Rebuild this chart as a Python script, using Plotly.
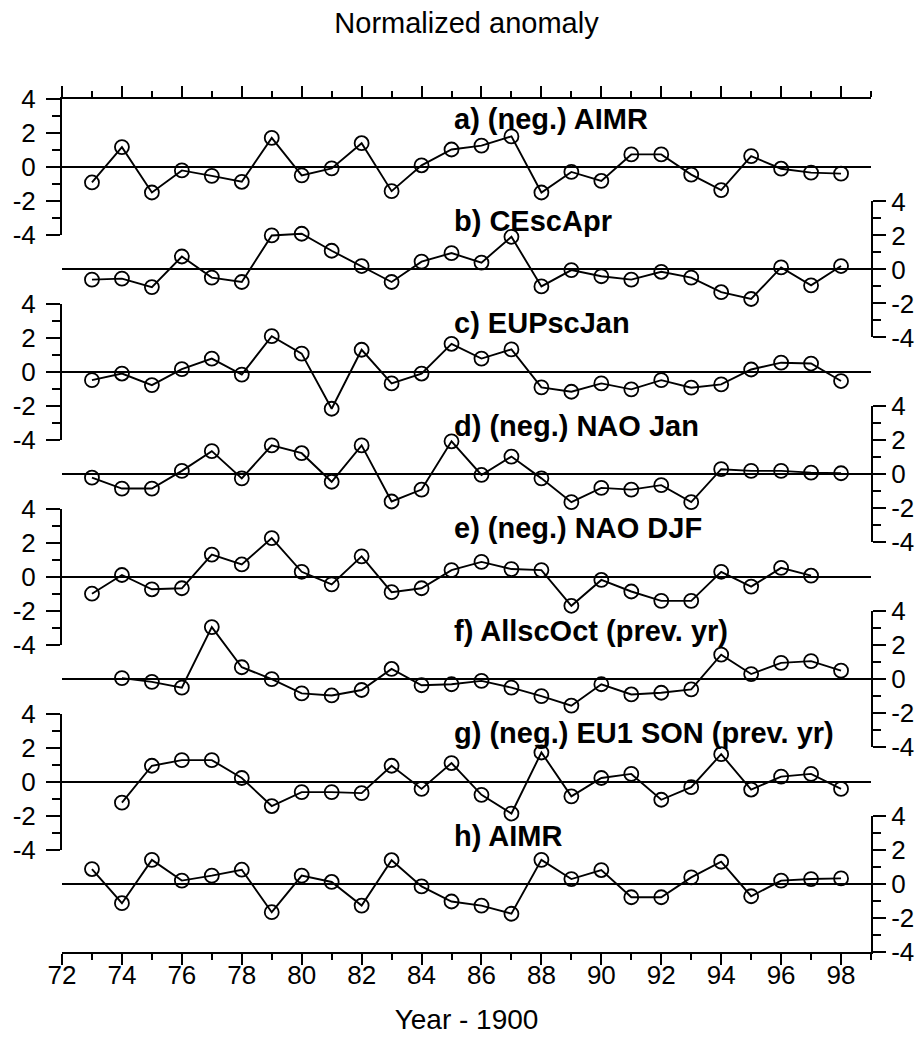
import plotly.graph_objects as go

# ---------------- data ----------------
years = list(range(73, 99))

a_neg_aimr = [-0.91, 1.17, -1.50, -0.20, -0.52, -0.87, 1.71, -0.49, -0.08, 1.40,
              -1.42, 0.10, 1.03, 1.26, 1.80, -1.50, -0.29, -0.82, 0.74, 0.74,
              -0.45, -1.36, 0.64, -0.10, -0.33, -0.39]
b_cescapr = [-0.60, -0.54, -1.04, 0.76, -0.48, -0.74, 2.00, 2.10, 1.10, 0.20,
             -0.74, 0.46, 0.96, 0.40, 1.92, -1.00, -0.04, -0.40, -0.60, -0.14,
             -0.48, -1.34, -1.74, 0.12, -0.94, 0.20]
c_eupscjan = [-0.49, -0.10, -0.78, 0.16, 0.78, -0.16, 2.10, 1.07, -2.17, 1.30,
              -0.68, -0.10, 1.65, 0.78, 1.32, -0.91, -1.17, -0.68, -1.03, -0.49,
              -0.93, -0.74, 0.14, 0.54, 0.49, -0.54]
d_neg_nao_jan = [-0.20, -0.84, -0.84, 0.20, 1.36, -0.24, 1.70, 1.24, -0.44, 1.70,
                 -1.60, -0.90, 1.94, -0.04, 1.04, -0.24, -1.64, -0.80, -0.90, -0.64,
                 -1.64, 0.30, 0.20, 0.20, 0.10, 0.06]
e_neg_nao_djf = [-1.00, 0.10, -0.74, -0.68, 1.30, 0.72, 2.27, 0.29, -0.45, 1.20,
                 -0.91, -0.68, 0.39, 0.87, 0.45, 0.39, -1.71, -0.19, -0.87, -1.42,
                 -1.42, 0.29, -0.58, 0.52, 0.06, None]
f_allscoct = [None, 0.06, -0.16, -0.50, 3.06, 0.70, 0.00, -0.84, -0.96, -0.64,
              0.60, -0.36, -0.30, -0.10, -0.50, -1.00, -1.56, -0.30, -0.90, -0.80,
              -0.60, 1.44, 0.30, 0.96, 1.06, 0.50]
g_neg_eu1_son = [None, -1.24, 0.93, 1.26, 1.26, 0.21, -1.44, -0.62, -0.62, -0.68,
                 0.93, -0.43, 1.09, -0.78, -1.88, 1.71, -0.87, 0.21, 0.45, -1.07,
                 -0.33, 1.61, -0.47, 0.29, 0.45, -0.43]
h_aimr = [0.88, -1.13, 1.42, 0.20, 0.49, 0.84, -1.66, 0.49, 0.12, -1.27,
          1.40, -0.14, -1.03, -1.27, -1.75, 1.42, 0.29, 0.82, -0.78, -0.78,
          0.39, 1.31, -0.72, 0.20, 0.29, 0.33]

panel_labels = ["a) (neg.) AIMR", "b) CEscApr", "c) EUPscJan", "d) (neg.) NAO Jan",
                "e) (neg.) NAO DJF", "f) AllscOct (prev. yr)",
                "g) (neg.) EU1 SON (prev. yr)", "h) AIMR"]
series = [a_neg_aimr, b_cescapr, c_eupscjan, d_neg_nao_jan,
          e_neg_nao_djf, f_allscoct, g_neg_eu1_son, h_aimr]

y_tickvals = [-4, -2, 0, 2, 4]
y_ticktext = ["-4", "-2", "0", "2", "4"]
y_minor = [-3, -1, 1, 3]
x_tickvals = list(range(72, 100, 2))
x_ticktext = [str(v) for v in x_tickvals]
x_minor = list(range(73, 100, 2))

title_text = "Normalized anomaly"
xaxis_title = "Year - 1900"

# ---------------- layout geometry ----------------
# the page body adds an 8px margin, so the figure is 8px smaller than the window
W, H = 915, 1036
m_l, m_r, m_t, m_b = 54, 52, 91, 92
plot_h = H - m_t - m_b
panel_h = 136 / plot_h
step = (1 - panel_h) / 7

FONT = "Liberation Sans, Arial, Helvetica, sans-serif"
BLACK = "#000000"

fig = go.Figure()
layout = {}
annotations = []

for i, (vals, lab) in enumerate(zip(series, panel_labels)):
    yname = "y" if i == 0 else f"y{i+1}"
    lname = "yaxis" if i == 0 else f"yaxis{i+1}"
    fig.add_trace(go.Scatter(
        x=years, y=vals, xaxis="x", yaxis=yname, mode="lines+markers",
        line=dict(color=BLACK, width=1.9),
        marker=dict(symbol="circle-open", size=14, color=BLACK,
                    line=dict(width=1.8, color=BLACK)),
        showlegend=False, hoverinfo="x+y"))
    top = 1 - i * step
    left = (i % 2 == 0)
    layout[lname] = dict(
        domain=[max(0.0, top - panel_h), top], range=[-4, 4], anchor="x",
        side="left" if left else "right", automargin=False,
        tickvals=y_tickvals, ticktext=y_ticktext, ticks="outside",
        ticklen=14 if left else 13,
        tickwidth=2, tickcolor=BLACK, showline=True, linewidth=2, linecolor=BLACK,
        showgrid=False, zeroline=True, zerolinecolor=BLACK, zerolinewidth=2,
        ticklabelstandoff=5 if left else 0,
        tickfont=dict(family=FONT, size=26, color=BLACK),
        minor=dict(tickvals=y_minor, ticks="outside", ticklen=8, tickwidth=2,
                   tickcolor=BLACK, showgrid=False),
        fixedrange=True)
    annotations.append(dict(
        text=lab, x=85, y=2.85, xref="x", yref=yname, xanchor="left",
        yanchor="middle", showarrow=False,
        font=dict(family=FONT, size=29, color=BLACK, weight="bold")))

# invisible trace so the top (mirror) axis is drawn
fig.add_trace(go.Scatter(x=[72, 99], y=[None, None], xaxis="x2", yaxis="y",
                         mode="lines", showlegend=False, hoverinfo="skip"))

xcommon = dict(range=[72, 99], showline=True, linewidth=2, linecolor=BLACK,
               showgrid=False, zeroline=False, ticks="outside", ticklen=11,
               tickwidth=2, tickcolor=BLACK, tickvals=x_tickvals, automargin=False,
               minor=dict(tickvals=x_minor, ticks="outside", ticklen=6,
                          tickwidth=2, tickcolor=BLACK, showgrid=False),
               fixedrange=True)

layout["xaxis"] = dict(xcommon, domain=[0, 1], anchor="y8", side="bottom",
                       ticktext=x_ticktext, ticklabelstandoff=-12,
                       tickfont=dict(family=FONT, size=26, color=BLACK),
                       title=dict(text=xaxis_title, standoff=20,
                                  font=dict(family=FONT, size=28, color=BLACK)))
layout["xaxis2"] = dict(xcommon, domain=[0, 1], anchor="y", side="top",
                        overlaying="x", showticklabels=False)

fig.update_layout(
    width=W, height=H,
    margin=dict(l=m_l, r=m_r, t=m_t, b=m_b, pad=0, autoexpand=False),
    paper_bgcolor="white", plot_bgcolor="rgba(0,0,0,0)",
    title=dict(text=title_text, x=0.5, xref="paper", xanchor="center",
               y=1 - 15 / H, yref="container", yanchor="middle",
               font=dict(family=FONT, size=29, color=BLACK)),
    annotations=annotations,
    **layout)

fig.write_html("out.html")
